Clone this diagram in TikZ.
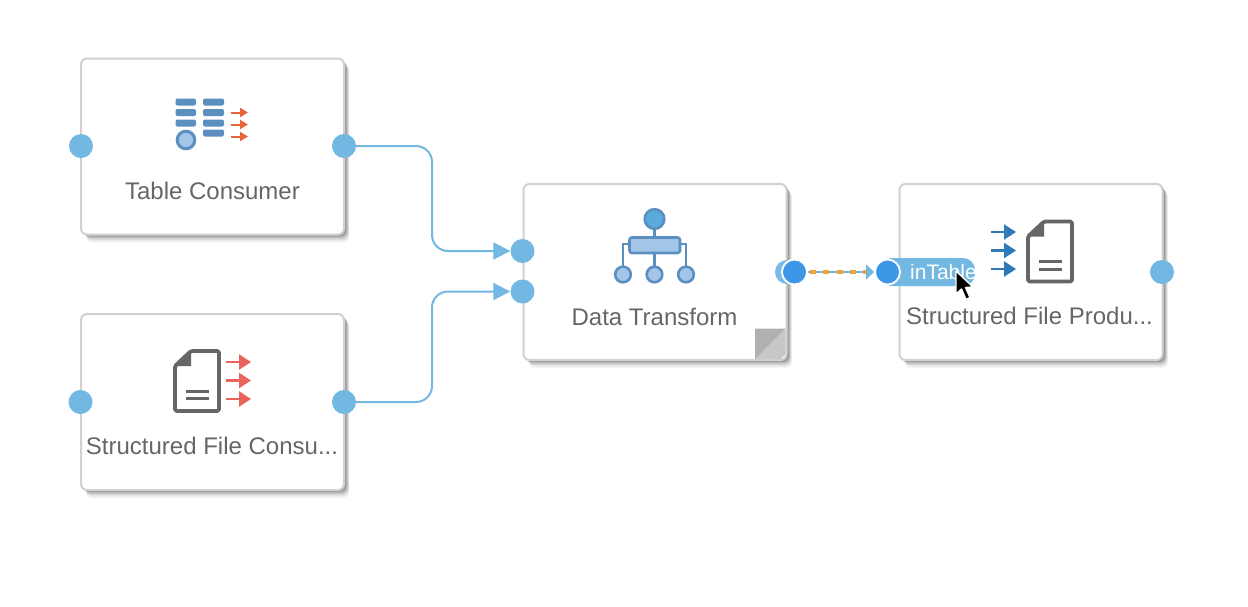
\documentclass[tikz,border=0pt]{standalone}
\usepackage{fontspec}
\setmainfont{Liberation Sans}
\usetikzlibrary{arrows.meta,shadows}

\definecolor{portblue}{HTML}{72B8E3}
\definecolor{activeblue}{HTML}{3D97E6}
\definecolor{iconblue}{HTML}{5B8FC0}
\definecolor{iconlight}{HTML}{A3C6E8}
\definecolor{iconsky}{HTML}{5AAADD}
\definecolor{arroworange}{HTML}{E8643C}
\definecolor{arrowred}{HTML}{E8645C}
\definecolor{arrowblue}{HTML}{2F7AB8}
\definecolor{dashorange}{HTML}{EDA23C}
\definecolor{docgray}{HTML}{666666}

\tikzset{
	blockbox/.style={draw=black!18,line width=2pt,fill=white,rounded corners=6pt,
		minimum width=263pt,minimum height=176pt,inner sep=0pt,
		drop shadow={shadow xshift=5pt,shadow yshift=-8pt,opacity=.04,fill=black},
		drop shadow={shadow xshift=5pt,shadow yshift=-6.5pt,opacity=.06,fill=black},
		drop shadow={shadow xshift=4.5pt,shadow yshift=-5pt,opacity=.08,fill=black},
		drop shadow={shadow xshift=3.5pt,shadow yshift=-3.5pt,opacity=.12,fill=black},
		drop shadow={shadow xshift=2.5pt,shadow yshift=-2pt,opacity=.16,fill=black}},
	blocktext/.style={text=docgray,font=\fontsize{24}{26}\selectfont,inner sep=0pt},
	port/.style={circle,fill=portblue,minimum size=24pt,inner sep=0pt},
	activeport/.style={circle,fill=activeblue,draw=white,line width=1.8pt,minimum size=25pt,inner sep=0pt},
	link/.style={draw=portblue,line width=2pt,rounded corners=16pt,-{Triangle[length=17pt,width=17pt]}},
	bar/.style={fill=iconblue,rounded corners=2pt},
	iconline/.style={draw=iconblue,line width=2.6pt},
	iconball/.style={iconline,fill=iconlight},
	thinarrow/.style={line width=2pt,-{Triangle[length=8pt,width=9pt]}},
	bigarrow/.style={line width=2.6pt,-{Triangle[length=12pt,width=15pt]}},
	pics/docicon/.style={code={
		\draw[docgray,line width=3.8pt,line join=round,rounded corners=1.5pt] (16,0) -- (44,0) -- (44,60) -- (0,60) -- (0,15) -- cycle;
		\fill[docgray] (0,15) -- (16,0) -- (16,15) -- cycle;
		\draw[docgray,line width=3pt] (11,40) -- (34,40) (11,47.5) -- (34,47.5);
	}}
}

\begin{document}
\begin{tikzpicture}[x=1pt,y=-1pt]
	\useasboundingbox (0,0) rectangle (1248,606);

	% blocks
	\node[blockbox] (tablebox) at (212.5,146.5) {};
	\node[blockbox] (consumerbox) at (212.5,402) {};
	\node[blockbox] (transformbox) at (655,272) {};
	\node[blockbox] (producerbox) at (1031,272) {};

	\node[blocktext] (tablelabel) at (212.5,191) {Table Consumer};
	\node[blocktext] (consumerlabel) at (212,446) {Structured File Consu...};
	\node[blocktext] (transformlabel) at (654.5,316.5) {Data Transform};
	\node[blocktext] (producerlabel) at (1029.5,316) {Structured File Produ...};

	% table consumer icon
	\foreach \y in {98.5,109,119.5} \fill[bar] (175.5,\y) rectangle (196,\y+7);
	\foreach \y in {98.5,109,119.5,129.5} \fill[bar] (203,\y) rectangle (224,\y+7);
	\draw[iconline,line width=3pt,fill=iconlight] (186,140) circle (8.8);
	\foreach \y in {112.5,124.5,136.5} \draw[thinarrow,arroworange] (231,\y) -- (248,\y);

	% file icons
	\pic at (175,351) {docicon};
	\foreach \y in {362,380.5,399} \draw[bigarrow,arrowred] (226,\y) -- (251,\y);
	\pic at (1028,221.5) {docicon};
	\foreach \y in {232,250.5,269} \draw[bigarrow,arrowblue] (991,\y) -- (1016,\y);

	% transform icon
	\draw[iconline] (654.5,219) -- (654.5,274);
	\draw[iconline] (623,274) -- (623,244) -- (686,244) -- (686,274);
	\draw[iconline,fill=iconsky] (654.5,219) circle (9.8);
	\draw[iconball,rounded corners=2.5pt] (629.5,237.5) rectangle (680,253);
	\foreach \x in {623,654.5,686} \draw[iconball] (\x,274.5) circle (7.8);

	% folded corner
	\fill[black!22] (755,359) -- (785.5,328.5) -- (785.5,354) -- (781,359) -- cycle;
	\fill[black!31] (755,328.5) -- (785.5,328.5) -- (755,359) -- cycle;

	% ports
	\node[port] (tablein) at (81,146) {};
	\node[port] (tableout) at (344,146) {};
	\node[port] (consumerin) at (80.5,402) {};
	\node[port] (consumerout) at (344,402) {};
	\node[port] (transformupper) at (522.5,251) {};
	\node[port] (transformlower) at (522.5,291.5) {};
	\node[port,opacity=.95] (transformhalo) at (787,272) {};
	\node[activeport] (transformout) at (794.5,272) {};
	\node[port] (producerout) at (1162,272) {};

	% in port with its tag
	\fill[portblue,rounded corners=12pt] (880,258) rectangle (975,286);
	\begin{scope}
		\clip (880,258) rectangle (975,286);
		\node[anchor=west,text=white,font=\fontsize{21}{23}\selectfont,inner sep=0pt] (taglabel) at (910,272) {inTable};
	\end{scope}
	\node[activeport] (producerin) at (887.5,272) {};

	% links
	\coordinate (bendupper) at (432,200);
	\coordinate (bendlower) at (432,340);
	\draw[link] (tableout) -| (bendupper) |- (transformupper);
	\draw[link] (consumerout) -| (bendlower) |- (transformlower);
	\draw[draw=portblue,line width=2pt,-{Triangle[length=8pt,width=15pt]}] (transformout) -- (producerin);
	\draw[dashorange,line width=4.5pt,dash pattern=on 6pt off 7.3pt,dash phase=-2pt,shorten >=8pt] (transformout.east) -- (producerin.west);

	% mouse cursor
	\draw[white,fill=black,line width=1.4pt,line join=round] (956,271) -- (956,294) -- (961.5,289) -- (966,299.5) -- (970,297.5) -- (965.5,287.5) -- (973,287) -- cycle;
\end{tikzpicture}
\end{document}
